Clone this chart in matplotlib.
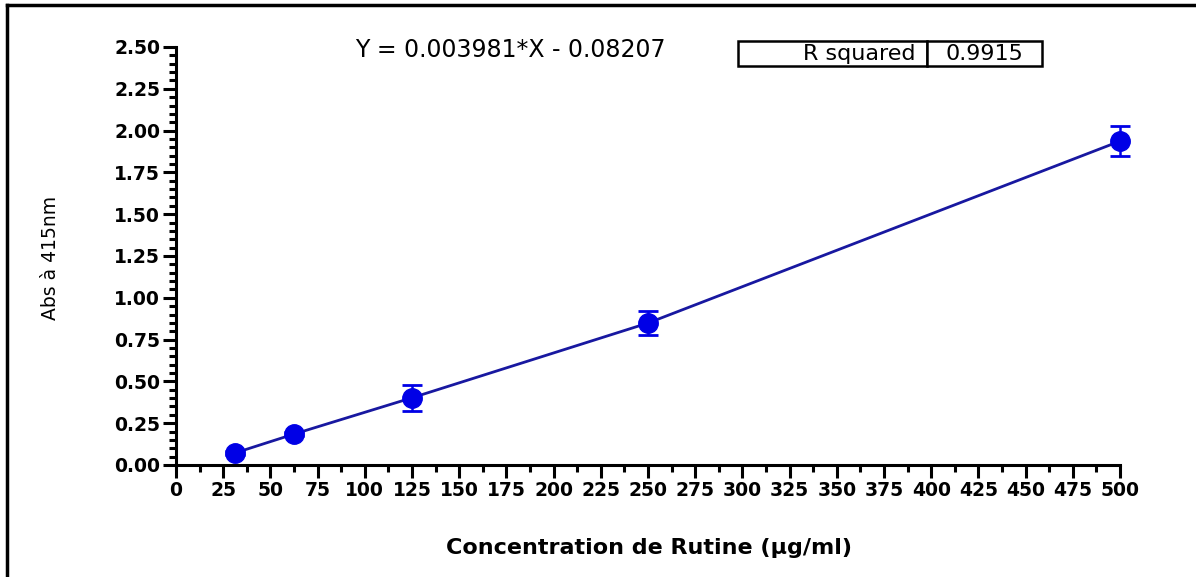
import matplotlib
matplotlib.use("Agg")
import matplotlib.pyplot as plt
from matplotlib.lines import Line2D
from matplotlib.ticker import MultipleLocator, FormatStrFormatter

concentration = [31.25, 62.5, 125, 250, 500]
absorbance = [0.072, 0.185, 0.402, 0.849, 1.937]
abs_error = [0.01, 0.01, 0.078, 0.072, 0.09]
equation_text = "Y = 0.003981*X - 0.08207"
r2_label = "R squared"
r2_value = "0.9915"
x_ticks = list(range(0, 501, 25))

plt.rcParams['font.family'] = ['DejaVu Sans']

fig = plt.figure(figsize=(11.96, 5.77), dpi=100)
ax = fig.add_axes([176/1196, 1-465/577, 944/1196, 418/577])

marker_blue = '#0000e6'
line_blue = '#1818a0'

ax.plot(concentration, absorbance, '-', color=line_blue, lw=2, zorder=2)
ax.errorbar(concentration, absorbance, yerr=abs_error, fmt='o', ms=14,
            color=marker_blue, ecolor=marker_blue, elinewidth=1.8,
            capsize=7.5, capthick=2, zorder=3, clip_on=False)

ax.set_xlim(0, 500)
ax.set_ylim(0, 2.5)
ax.set_xticks(x_ticks)
ax.xaxis.set_minor_locator(MultipleLocator(12.5))
ax.yaxis.set_major_locator(MultipleLocator(0.25))
ax.yaxis.set_minor_locator(MultipleLocator(0.05))
ax.yaxis.set_major_formatter(FormatStrFormatter('%.2f'))

for s in ['top', 'right']:
    ax.spines[s].set_visible(False)
for s in ['left', 'bottom']:
    ax.spines[s].set_linewidth(2.2)

ax.tick_params(which='major', direction='out', length=9.5, width=2.2,
               labelsize=13.5, pad=2)
ax.tick_params(which='minor', direction='out', length=5, width=2.2)
for lbl in ax.get_xticklabels() + ax.get_yticklabels():
    lbl.set_fontweight('bold')

ax.set_xlabel("Concentration de Rutine (µg/ml)", fontsize=16, fontweight='bold')
ax.xaxis.set_label_coords((649-176)/944, (465-548)/418)
ax.xaxis.label.set_va('center')
ax.set_ylabel("Abs à 415nm", fontsize=13.5)
ax.yaxis.set_label_coords((50-176)/944, (465-258)/418)
ax.yaxis.label.set_va('center')

fig.text(510/1196, 1-50/577, equation_text, fontsize=17, ha='center', va='center')

tbl = ax.table(cellText=[[r2_label, r2_value]],
               colWidths=[189/304, 115/304],
               cellLoc='right',
               bbox=[(738-176)/944, (465-66)/418, 304/944, 25/418])
tbl.auto_set_font_size(False)
for (r, c), cell in tbl.get_celld().items():
    cell.set_linewidth(1.8)
    cell.get_text().set_fontsize(16)
    cell.PAD = 0.06
    if c == 1:
        cell.get_text().set_ha('center')
        cell._loc = 'center'
tbl.set_clip_on(False)

fig.add_artist(Line2D([7/1196, 1], [1-5/577, 1-5/577], color='black', lw=2.5,
                      transform=fig.transFigure))
fig.add_artist(Line2D([7/1196, 7/1196], [0, 1-5/577], color='black', lw=2.5,
                      transform=fig.transFigure))

fig.savefig("out.png", dpi=100)
